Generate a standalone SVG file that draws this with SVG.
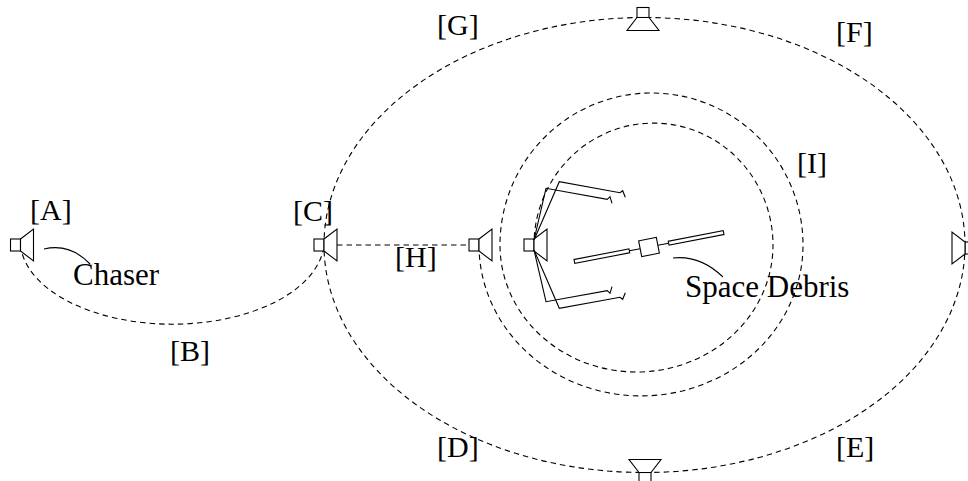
<svg xmlns="http://www.w3.org/2000/svg" width="968" height="481" viewBox="0 0 968 481">
  <style>
    .orbit { fill: none; stroke: #000; stroke-width: 1.1; stroke-dasharray: 5.5 4; }
    .line { fill: none; stroke: #000; stroke-width: 1.1; }
    .body { fill: #fff; stroke: #000; stroke-width: 1.1; stroke-linejoin: miter; }
    .lbl { font-family: "Liberation Serif", "Times New Roman", serif; font-size: 30px; fill: #000; }
    .big { font-size: 31px; }
  </style>
  <defs>
    <!-- chaser spacecraft: bus box with a thruster cone; origin at the box/cone joint -->
    <g id="chaser-shape">
      <rect class="body" x="-10" y="-6" width="10" height="12"/>
      <polygon class="body" points="0,-6 13,-16 13,16 0,6"/>
    </g>
  </defs>

  <!-- transfer orbits -->
  <g id="connectors">
    <path class="orbit" d="M20.5,245 A152,84 0 0 0 324,245"/>
    <ellipse class="orbit" cx="644.5" cy="245" rx="320.5" ry="227.5"/>
    <path class="orbit" d="M337,245 L466,245"/>
    <path class="orbit" d="M479,245 A162,151 0 0 0 803,245 A151.5,152 0 0 0 500,245 A136.5,127 0 0 0 773,245 A119.5,122 0 0 0 534,245"/>
  </g>

  <!-- chaser at each waypoint -->
  <g id="chaser-a"><use href="#chaser-shape" transform="translate(20.5,245)"/></g>
  <g id="chaser-c"><use href="#chaser-shape" transform="translate(324,245)"/></g>
  <g id="chaser-h"><use href="#chaser-shape" transform="translate(479,245)"/></g>
  <g id="chaser-top"><use href="#chaser-shape" transform="translate(643,17.5) rotate(90)"/></g>
  <g id="chaser-bottom"><use href="#chaser-shape" transform="translate(645,472.5) rotate(-90)"/></g>
  <g id="chaser-right"><use href="#chaser-shape" transform="translate(965,248) rotate(180)"/></g>

  <!-- chaser with deployed capture arms -->
  <g id="chaser-capture">
    <use href="#chaser-shape" transform="translate(534,245)"/>
    <path class="line" d="M534,240 L559.3,181.7 L620,192.7 L622.7,190.7 L625.3,197.3"/>
    <path class="line" d="M534,240 L546,188.3 L607.3,199.3 L610,196.7 L612,203.3"/>
    <path class="line" d="M534,250 L559.3,308.3 L620,297.3 L622.7,299.3 L625.3,292.7"/>
    <path class="line" d="M534,250 L546,301.7 L607.3,290.7 L610,293.3 L612,286.7"/>
  </g>

  <!-- tumbling debris: bus with two solar panels -->
  <g id="debris" transform="translate(649,247) rotate(-11)">
    <rect class="body" x="-76" y="-2" width="56" height="4"/>
    <rect class="body" x="20" y="-2" width="56" height="4"/>
    <path class="line" d="M-20,0 L-9,0 M9,0 L20,0"/>
    <rect class="body" x="-9" y="-8" width="18" height="16"/>
  </g>

  <!-- callouts -->
  <g id="callout-chaser">
    <path class="line" d="M44,249 Q70,243 90,264"/>
    <text class="lbl big" x="73" y="285">Chaser</text>
  </g>
  <g id="callout-debris">
    <path class="line" d="M673,258 Q700,255 723,277"/>
    <text class="lbl big" x="685" y="297">Space Debris</text>
  </g>

  <!-- waypoint labels -->
  <g id="labels">
    <text class="lbl" x="30" y="220">[A]</text>
    <text class="lbl" x="170" y="361">[B]</text>
    <text class="lbl" x="293" y="221">[C]</text>
    <text class="lbl" x="437" y="457">[D]</text>
    <text class="lbl" x="836" y="457">[E]</text>
    <text class="lbl" x="836" y="42">[F]</text>
    <text class="lbl" x="437" y="35">[G]</text>
    <text class="lbl" x="395" y="267">[H]</text>
    <text class="lbl" x="797" y="173">[I]</text>
  </g>
</svg>
